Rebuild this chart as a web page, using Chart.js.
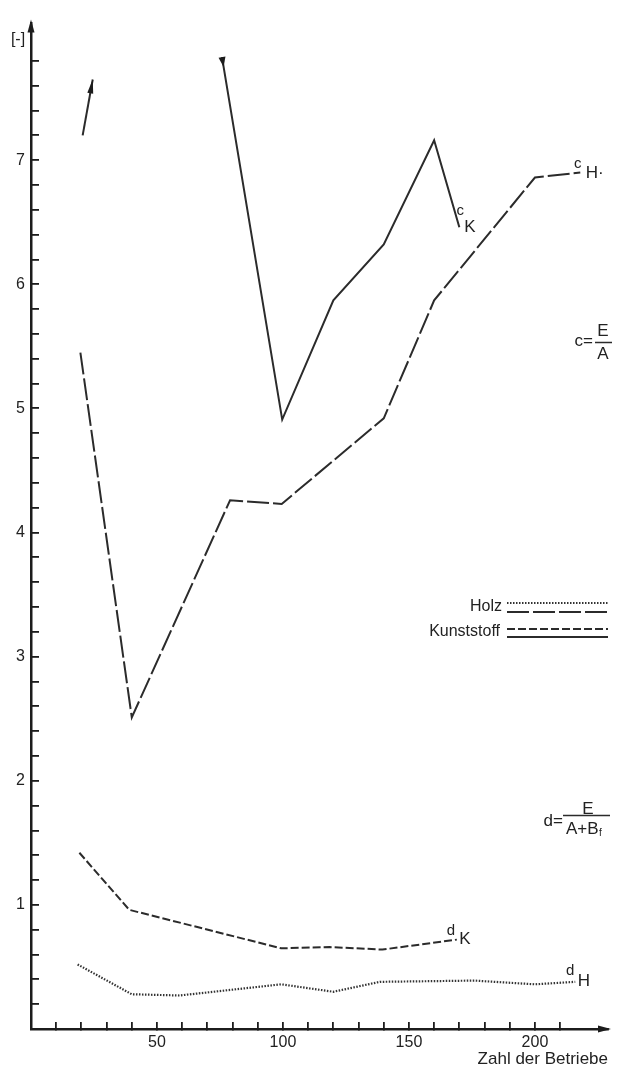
<!DOCTYPE html>
<html>
<head>
<meta charset="utf-8">
<script src="https://cdn.jsdelivr.net/npm/chart.js@4.4.0/dist/chart.umd.min.js"></script>
<style>
  html, body { margin: 0; padding: 0; background: #fff; }
  #wrap { width: 619px; height: 1070px; position: relative; }
</style>
</head>
<body>
<div id="wrap"><canvas id="chart"></canvas></div>
<script>
// values (x = Zahl der Betriebe)
const cHolzX = [19.6, 40, 79, 99.5, 140, 160, 200, 218];
const cHolzY = [5.45, 2.51, 4.26, 4.23, 4.92, 5.87, 6.86, 6.90];

// Kunststoff c: short piece leaving the top at x=20, main piece re-entering near 76
const cKunstArrowX = [20.5, 24.5];
const cKunstArrowY = [7.2, 7.65];
const cKunstX = [75.8, 99.7, 120, 140, 160, 170];
const cKunstY = [7.83, 4.91, 5.87, 6.32, 7.16, 6.46];

const dKunstX = [19.2, 39, 99.3, 118.5, 139.5, 169];
const dKunstY = [1.42, 0.96, 0.65, 0.66, 0.64, 0.72];

const dHolzX = [18.5, 40, 59, 99.3, 120, 138.5, 176, 200, 216];
const dHolzY = [0.52, 0.28, 0.27, 0.36, 0.30, 0.38, 0.39, 0.36, 0.38];

const xTickLabels = [50, 100, 150, 200];
const yTickLabels = [1, 2, 3, 4, 5, 6, 7];

const INK = '#2b2b2b';
const FONT = '"Liberation Sans", Arial, sans-serif';

function pts(xs, ys) {
    return xs.map((x, i) => ({ x: x, y: ys[i] }));
}

function lineSet(label, xs, ys, dash, extra) {
    return Object.assign({
        label: label,
        data: pts(xs, ys),
        borderColor: INK,
        borderWidth: 2,
        borderDash: dash,
        pointRadius: 0,
        tension: 0,
        fill: false,
        clip: false
    }, extra || {});
}

function head(ctx, tipX, tipY, dirX, dirY, len, half) {
    const l = Math.hypot(dirX, dirY);
    const ux = dirX / l, uy = dirY / l;
    const bx = tipX - ux * len, by = tipY - uy * len;
    ctx.beginPath();
    ctx.moveTo(tipX, tipY);
    ctx.lineTo(bx - uy * half, by + ux * half);
    ctx.lineTo(bx + uy * half, by - ux * half);
    ctx.closePath();
    ctx.fill();
}

function txt(ctx, s, x, y, size, align) {
    ctx.font = size + 'px ' + FONT;
    ctx.textAlign = align || 'center';
    ctx.textBaseline = 'middle';
    ctx.fillText(s, x, y);
    return ctx.measureText(s).width;
}

const decor = {
    id: 'decor',
    afterDraw(chart) {
        const ctx = chart.ctx;
        const a = chart.chartArea;
        ctx.save();
        ctx.fillStyle = '#1c1c1c';
        ctx.strokeStyle = INK;

        // axis arrows
        head(ctx, a.left, a.top - 4, 0, -1, 13, 3.5);
        head(ctx, a.right + 3, a.bottom, 1, 0, 13, 3.5);

        // arrowheads on the Kunststoff c pieces
        chart.data.datasets.forEach((ds, i) => {
            const el = chart.getDatasetMeta(i).data;
            if (ds.arrowEnd) {
                const p0 = el[el.length - 2], p1 = el[el.length - 1];
                head(ctx, p1.x, p1.y, p1.x - p0.x, p1.y - p0.y, 14, 3);
            }
            if (ds.arrowStart) {
                const p0 = el[0], p1 = el[1];
                const dx = p1.x - p0.x, dy = p1.y - p0.y, l = Math.hypot(dx, dy);
                head(ctx, p0.x + dx / l * 10, p0.y + dy / l * 10, dx, dy, 10, 3.5);
            }
        });

        ctx.fillStyle = '#222';
        // unit label
        txt(ctx, '[-]', 18, 40, 16);

        // curve labels at the end of each line
        const end = (i) => { const el = chart.getDatasetMeta(i).data; return el[el.length - 1]; };
        let e = end(2);
        txt(ctx, 'c', e.x + 1, e.y - 16, 15);
        txt(ctx, 'K', e.x + 5, e.y, 17, 'left');
        e = end(0);
        txt(ctx, 'c', e.x - 2.5, e.y - 8.5, 15);
        txt(ctx, 'H·', e.x + 5.5, e.y + 0.5, 17, 'left');
        e = end(3);
        txt(ctx, 'd', e.x - 6, e.y - 9, 15);
        txt(ctx, 'K', e.x + 2.5, e.y, 17, 'left');
        e = end(4);
        txt(ctx, 'd', e.x - 5, e.y - 10.5, 15);
        txt(ctx, 'H', e.x + 2.5, e.y - 1, 17, 'left');

        // formulas
        txt(ctx, 'c=', 593, 341, 17, 'right');
        txt(ctx, 'E', 603, 331, 17);
        txt(ctx, 'A', 603, 354, 17);
        ctx.lineWidth = 1.5;
        ctx.setLineDash([]);
        ctx.beginPath(); ctx.moveTo(595, 342.5); ctx.lineTo(612, 342.5); ctx.stroke();

        txt(ctx, 'd=', 563, 821.5, 17, 'right');
        txt(ctx, 'E', 588, 809, 17);
        ctx.beginPath(); ctx.moveTo(563, 815.5); ctx.lineTo(610, 815.5); ctx.stroke();
        const w = txt(ctx, 'A+B', 566, 829, 17, 'left');
        txt(ctx, 'f', 566 + w + 0.5, 833, 10, 'left');

        // legend
        txt(ctx, 'Holz', 502, 607, 16, 'right');
        txt(ctx, 'Kunststoff', 500, 632, 16, 'right');
        const leg = [[603, [1.5, 1.5], '#333'], [612, [22, 4], INK], [629, [8, 3], INK], [637, [], INK]];
        ctx.lineWidth = 2;
        leg.forEach(([y, d, col]) => {
            ctx.strokeStyle = col;
            ctx.setLineDash(d);
            ctx.beginPath(); ctx.moveTo(507, y); ctx.lineTo(608, y); ctx.stroke();
        });
        ctx.restore();
    }
};

new Chart(document.getElementById('chart'), {
    type: 'line',
    data: {
        datasets: [
            lineSet('c Holz', cHolzX, cHolzY, [22, 4]),
            lineSet('c Kunststoff (Pfeil)', cKunstArrowX, cKunstArrowY, [], { arrowEnd: true }),
            lineSet('c Kunststoff', cKunstX, cKunstY, [], { arrowStart: true }),
            lineSet('d Kunststoff', dKunstX, dKunstY, [8, 3]),
            lineSet('d Holz', dHolzX, dHolzY, [1.5, 1.5], { borderColor: '#333', borderWidth: 2.2 })
        ]
    },
    options: {
        responsive: true,
        maintainAspectRatio: false,
        animation: false,
        layout: { padding: { top: 14, right: 9, left: 0, bottom: 0 } },
        plugins: {
            legend: { display: false },
            tooltip: { enabled: false }
        },
        scales: {
            x: {
                type: 'linear',
                min: 0,
                max: 229,
                afterFit: s => { s.height = 41; },
                border: { display: true, color: '#1c1c1c', width: 2.5 },
                grid: {
                    drawOnChartArea: false,
                    drawTicks: true,
                    tickLength: -7,
                    lineWidth: 1.8,
                    color: c => (c.tick && c.tick.value > 5 && c.tick.value < 225) ? '#1c1c1c' : 'rgba(0,0,0,0)'
                },
                ticks: {
                    stepSize: 10,
                    autoSkip: false,
                    maxRotation: 0,
                    padding: 11,
                    color: '#222',
                    font: { family: FONT, size: 16 },
                    callback: v => xTickLabels.includes(v) ? String(v) : ''
                },
                title: {
                    display: true,
                    text: 'Zahl der Betriebe',
                    align: 'end',
                    color: '#222',
                    font: { family: FONT, size: 17 },
                    padding: 0
                }
            },
            y: {
                type: 'linear',
                min: 0,
                max: 8.1,
                afterFit: s => { s.width = 31; },
                border: { display: true, color: '#1c1c1c', width: 2.5 },
                grid: {
                    drawOnChartArea: false,
                    drawTicks: true,
                    tickLength: -8,
                    lineWidth: 1.8,
                    color: c => (c.tick && c.tick.value > 0.1 && c.tick.value < 7.9) ? '#1c1c1c' : 'rgba(0,0,0,0)'
                },
                ticks: {
                    stepSize: 0.2,
                    autoSkip: false,
                    padding: 14,
                    color: '#222',
                    font: { family: FONT, size: 16 },
                    callback: v => {
                        const r = Math.round(v);
                        return (Math.abs(v - r) < 1e-6 && yTickLabels.includes(r)) ? String(r) : '';
                    }
                }
            }
        }
    },
    plugins: [decor]
});
</script>
</body>
</html>
